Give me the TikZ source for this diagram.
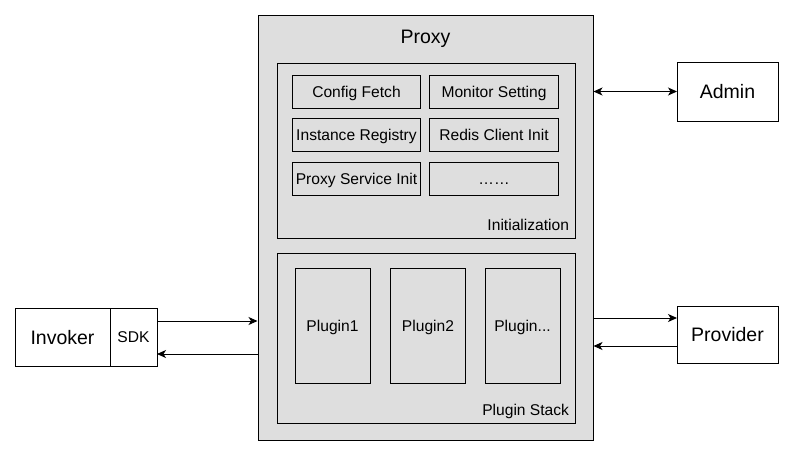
\documentclass[tikz,border=0pt]{standalone}
\usepackage{fontspec}
\setmainfont{Liberation Sans}
\usepackage{xcolor}
\usetikzlibrary{arrows.meta, positioning, calc}
\definecolor{pxGray}{RGB}{222,222,222}
\definecolor{pxLine}{RGB}{0,0,0}
\newcommand{\pxSmall}{\fontsize{15.6}{18}\selectfont}
\newcommand{\pxBig}{\fontsize{19.5}{23}\selectfont}

\begin{document}
\begin{tikzpicture}[
    x=1pt, y=-1pt,
    line width=1pt,
    small/.style={font=\pxSmall, text height=11.2pt, text depth=0pt},
    big/.style={font=\pxBig, text height=14pt, text depth=0pt},
    panel/.style={draw=pxLine, fill=pxGray, inner sep=0pt},
    cell/.style={draw=pxLine, fill=pxGray, inner sep=0pt, small,
                 minimum width=128.5pt, minimum height=33pt},
    plug/.style={draw=pxLine, fill=pxGray, inner sep=0pt, small,
                 minimum width=75pt, minimum height=115pt},
    ext/.style={draw=pxLine, fill=white, inner sep=0pt, outer sep=0pt, big},
    tag/.style={small, anchor=east, inner sep=0pt},
    flow/.style={-{Stealth[length=9pt, width=8pt, inset=2.5pt]}},
    both/.style={{Stealth[length=9pt, width=8pt, inset=2.5pt]}-{Stealth[length=9pt, width=8pt, inset=2.5pt]}}
]
\useasboundingbox (0,0) rectangle (793,456);

% CENTRE --- proxy with its two stages
\node[panel, minimum width=335pt, minimum height=425pt] (proxy) at (425.5,227.5) {};
\node[big, inner sep=0pt] (proxy-title) at (425.5,36) {Proxy};

\node[panel, minimum width=298pt, minimum height=175pt] (init) at (426,150.5) {};
\node[cell] (cfg) at (356.5,91.5) {Config Fetch};
\node[cell] (mon) at (494,91.5)   {Monitor Setting};
\node[cell] (reg) at (356.5,135)  {Instance Registry};
\node[cell] (red) at (494,135)    {Redis Client Init};
\node[cell] (svc) at (356.5,179)  {Proxy Service Init};
\node[cell] (etc) at (494,179)    {……};
\node[tag] (init-tag) at ($(init.south east)+(-6,-14)$) {Initialization};

\node[panel, minimum width=298pt, minimum height=170pt] (stack) at (426,338) {};
\node[plug] (p1) at (332.5,325.5) {Plugin1};
\node[plug] (p2) at (428,325.5)   {Plugin2};
\node[plug] (p3) at (522.5,325.5) {Plugin...};
\node[tag] (stack-tag) at ($(stack.south east)+(-6,-14)$) {Plugin Stack};

% LEFT --- invoker with its SDK
\node[ext, minimum width=95pt, minimum height=58pt] (inv) at (62.5,337) {Invoker};
\node[ext, minimum width=47pt, minimum height=58pt, small,
      right=0pt of inv] (sdk) {SDK};

% RIGHT --- admin and provider
\node[ext, minimum width=101pt, minimum height=59pt] (admin) at (727.5,91.5) {Admin};
\node[ext, minimum width=101pt, minimum height=57pt] (prov) at (727.5,334.5) {Provider};

% connectors
\draw[flow] ([yshift=16pt]sdk.east) coordinate (s1) -- (s1 -| proxy.west);
\draw[flow] ([yshift=-17pt]sdk.east) coordinate (s2) (s2 -| proxy.west) -- (s2);
\draw[both] (admin.west -| proxy.east) -- (admin.west);
\draw[flow] ([yshift=16.5pt]prov.west) coordinate (v1) (v1 -| proxy.east) -- (v1);
\draw[flow] ([yshift=-11.5pt]prov.west) coordinate (v2) -- (v2 -| proxy.east);

\end{tikzpicture}
\end{document}
